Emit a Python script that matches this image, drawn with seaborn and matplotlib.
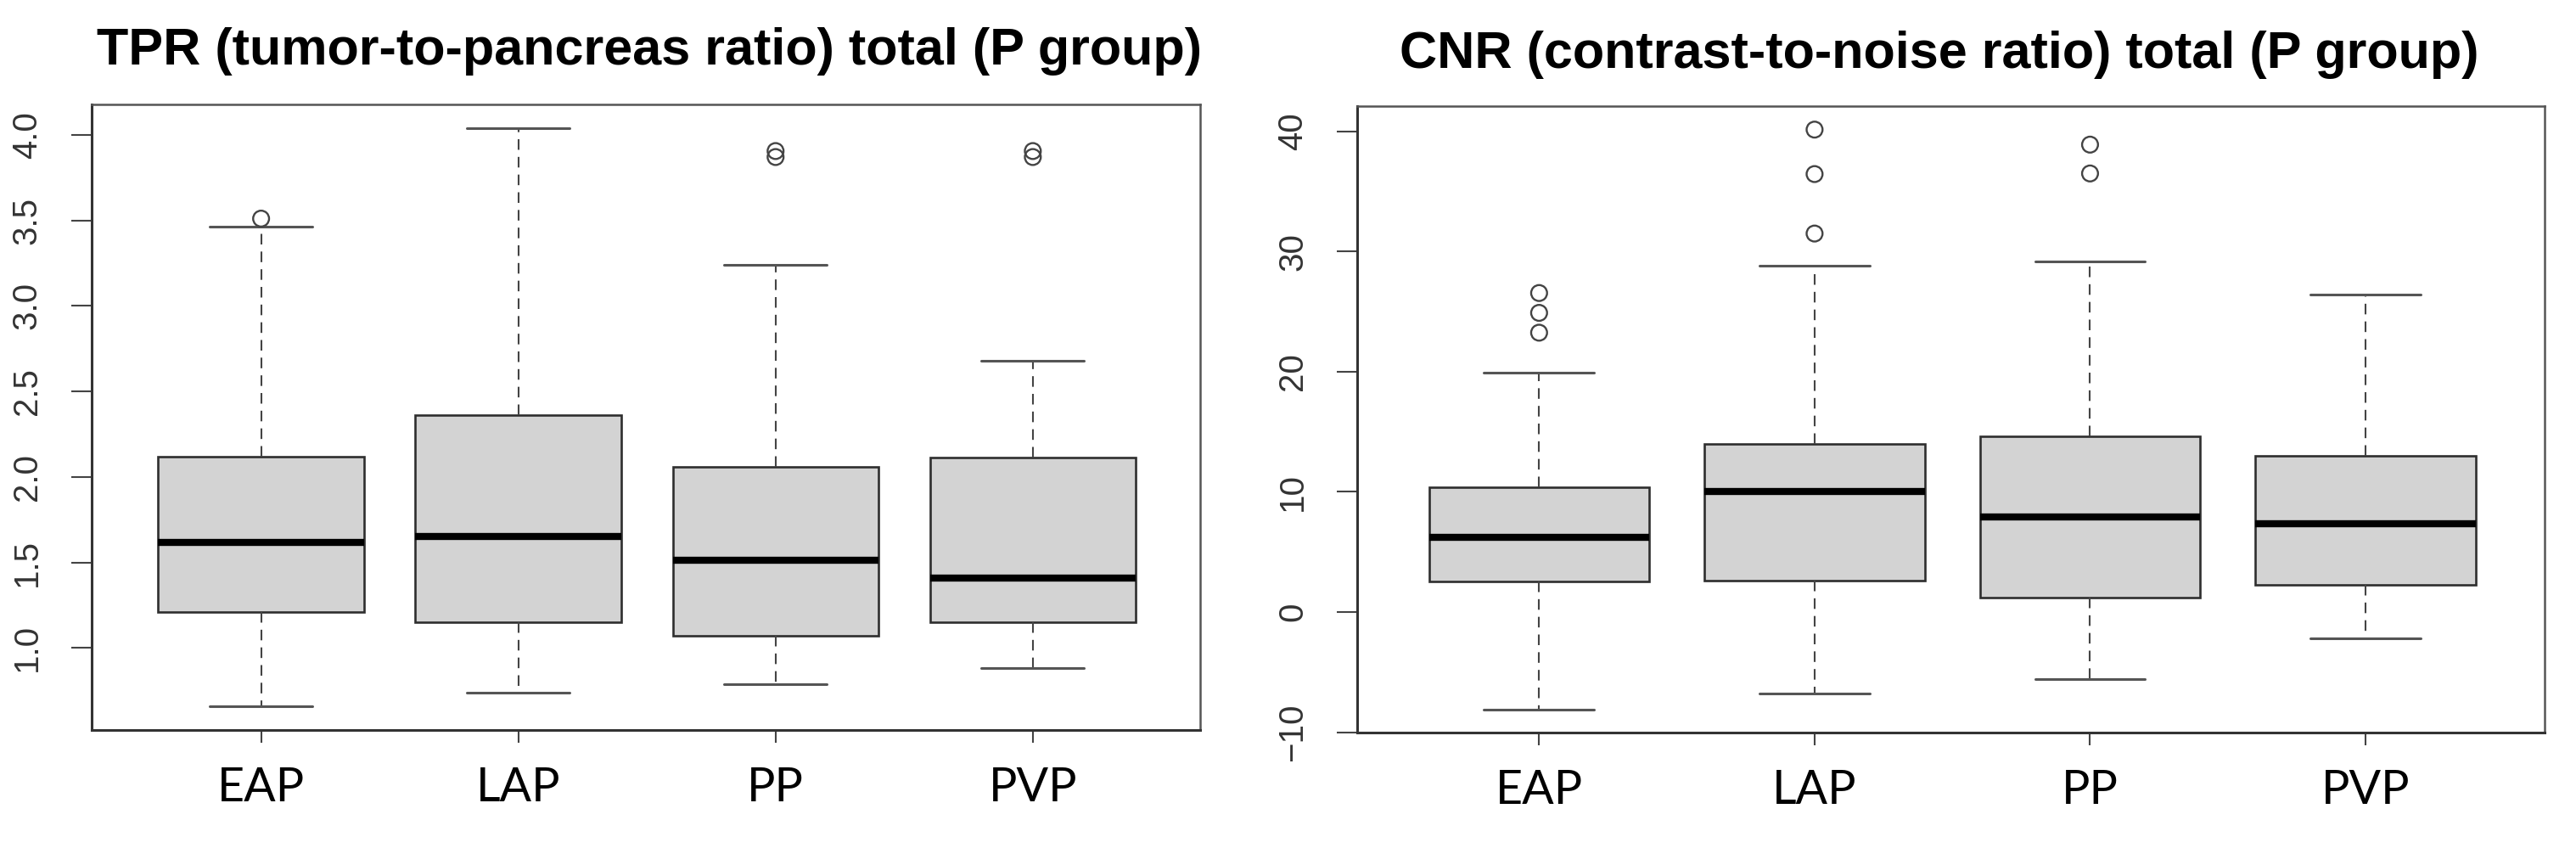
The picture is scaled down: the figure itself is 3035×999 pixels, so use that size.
import pandas as pd
import matplotlib
matplotlib.use("Agg")
import matplotlib.pyplot as plt
import seaborn as sns

phases = ["EAP", "LAP", "PP", "PVP"]

# TPR five-number summaries (lower whisker, Q1, median, Q3, upper whisker)
tpr_low = [0.66, 0.74, 0.79, 0.88]
tpr_q1 = [1.21, 1.15, 1.07, 1.15]
tpr_med = [1.615, 1.65, 1.515, 1.41]
tpr_q3 = [2.12, 2.36, 2.06, 2.115]
tpr_high = [3.465, 4.04, 3.24, 2.68]
tpr_out_phase = ["EAP", "PP", "PP", "PVP", "PVP"]
tpr_out_value = [3.51, 3.905, 3.87, 3.905, 3.87]

# CNR five-number summaries
cnr_low = [-8.1, -6.8, -5.55, -2.2]
cnr_q1 = [2.55, 2.65, 1.2, 2.3]
cnr_med = [6.2, 10.05, 7.9, 7.35]
cnr_q3 = [10.4, 14.0, 14.6, 13.0]
cnr_high = [19.9, 28.8, 29.2, 26.4]
cnr_out_phase = ["EAP", "EAP", "EAP", "LAP", "LAP", "LAP", "PP", "PP"]
cnr_out_value = [26.55, 24.9, 23.25, 40.15, 36.45, 31.5, 38.9, 36.5]


def long_table(low, q1, med, q3, high):
    rows = []
    for i, p in enumerate(phases):
        for v in [low[i], q1[i], med[i], q3[i], high[i]]:
            rows.append({"phase": p, "value": v})
    return pd.DataFrame(rows)


tpr = long_table(tpr_low, tpr_q1, tpr_med, tpr_q3, tpr_high)
cnr = long_table(cnr_low, cnr_q1, cnr_med, cnr_q3, cnr_high)
tpr_out = pd.DataFrame({"phase": tpr_out_phase, "value": tpr_out_value})
cnr_out = pd.DataFrame({"phase": cnr_out_phase, "value": cnr_out_value})

sns.set_style("white")
plt.rcParams["font.family"] = ["Liberation Sans", "DejaVu Sans"]
plt.rcParams["text.color"] = "black"

fig = plt.figure(figsize=(30.35, 9.99), dpi=100)
ax1 = fig.add_axes([0.03545, 0.13914, 0.4304, 0.7374])
ax2 = fig.add_axes([0.5269, 0.1358, 0.4609, 0.739])


def draw(ax, df, out, ylim, yticks, ylabels):
    sns.boxplot(data=df, x="phase", y="value", order=phases, ax=ax,
                color="#d3d3d3", saturation=1, width=0.8, whis=(0, 100),
                linecolor="#2e2e2e", linewidth=1.9, showfliers=False,
                medianprops=dict(color="black", linewidth=6),
                whiskerprops=dict(color="#444444", linewidth=1.5, linestyle=(0, (6, 4))),
                capprops=dict(color="#555555", linewidth=2.2))
    n = len(ax.collections)
    sns.stripplot(data=out, x="phase", y="value", order=phases, ax=ax,
                  jitter=False, size=13.5, color="#444444")
    for c in ax.collections[n:]:
        c.set_facecolor("none")
        c.set_edgecolor("#444444")
        c.set_linewidth(1.7)
    ax.set_xlim(-0.66, 3.65)
    ax.set_ylim(ylim)
    ax.set_yticks(yticks)
    ax.set_yticklabels(ylabels, rotation=90, va="center", fontsize=29, color="#333333")
    ax.set_xticks(range(len(phases)))
    ax.set_xticklabels(phases, fontsize=40, family=["Lato", "DejaVu Sans"], color="black")
    ax.tick_params(axis="y", length=17, width=1.5, color="#444444", pad=24, left=True)
    ax.tick_params(axis="x", length=11, width=1.5, color="#444444", pad=20, bottom=True)
    ax.set_xlabel("")
    ax.set_ylabel("")
    for side in ["bottom", "left"]:
        ax.spines[side].set_color("#333333")
        ax.spines[side].set_linewidth(2.2)
    for side in ["top", "right"]:
        ax.spines[side].set_color("#555555")
        ax.spines[side].set_linewidth(1.8)


draw(ax1, tpr, tpr_out, (0.52, 4.176), [1.0, 1.5, 2.0, 2.5, 3.0, 3.5, 4.0],
     ["1.0", "1.5", "2.0", "2.5", "3.0", "3.5", "4.0"])
draw(ax2, cnr, cnr_out, (-10.05, 42.1), [-10, 0, 10, 20, 30, 40],
     ["\u221210", "0", "10", "20", "30", "40"])

title_font = ["Liberation Sans Narrow", "Liberation Sans", "DejaVu Sans"]
fig.text(765 / 3035, 1 - 76 / 999, "TPR (tumor-to-pancreas ratio) total (P group)",
         ha="center", va="baseline", fontsize=44, fontweight="bold",
         family=title_font, color="black")
fig.text(2285 / 3035, 1 - 80 / 999, "CNR (contrast-to-noise ratio) total (P group)",
         ha="center", va="baseline", fontsize=44, fontweight="bold",
         family=title_font, color="black")

fig.savefig("out.png", dpi=100)
